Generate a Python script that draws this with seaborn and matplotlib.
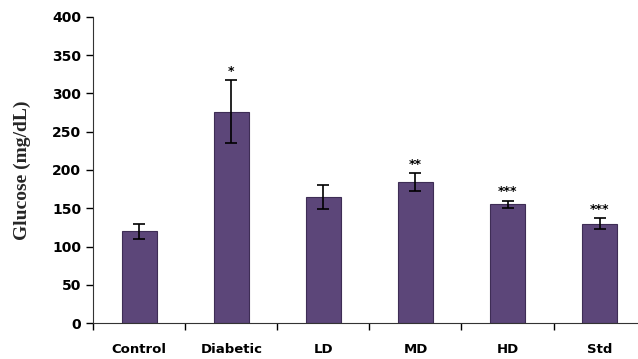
import numpy as np
import pandas as pd
import matplotlib
matplotlib.use("Agg")
import matplotlib.pyplot as plt
import seaborn as sns

# Glucose levels per group
groups = ["Control", "Diabetic", "LD", "MD", "HD", "Std"]
glucose = [120, 276, 165, 184, 155, 130]
sem = [10, 41, 16, 12, 5, 7]
stars = ["", "*", "", "**", "***", "***"]

df = pd.DataFrame({"group": groups, "glucose": glucose})

sns.set_style("white")
plt.rcParams["font.family"] = ["DejaVu Sans"]
plt.rcParams["text.color"] = "black"
plt.rcParams["xtick.color"] = "black"
plt.rcParams["ytick.color"] = "black"

fig = plt.figure(figsize=(6.38, 3.59), dpi=100)
ax = fig.add_axes([0.146, 0.100, 0.866, 0.853])

sns.barplot(data=df, x="group", y="glucose", color="#5c4679", width=0.38,
            edgecolor="#3e2d55", linewidth=0.8, saturation=1, errorbar=None, ax=ax)
ax.errorbar(np.arange(len(groups)), glucose, yerr=sem, fmt="none",
            ecolor="black", elinewidth=1.2, capsize=4, capthick=1.2)

for i, s in enumerate(stars):
    if s:
        ax.text(i, glucose[i] + sem[i] + 3, s, ha="center", va="bottom",
                fontsize=9, fontweight="bold")

ax.set_ylim(0, 400)
ax.set_yticks(range(0, 401, 50))
ax.set_xlim(-0.5, 5.5)
ax.set_xticks(np.arange(-0.5, 5.6, 1))
ax.set_xticklabels([])
ax.set_xticks(np.arange(len(groups)), minor=True)
ax.set_xticklabels(groups, minor=True, fontsize=9.5, fontweight="bold")
ax.tick_params(axis="x", which="major", direction="out", length=5, width=1, bottom=True)
ax.tick_params(axis="x", which="minor", length=0, pad=14)
ax.tick_params(axis="y", direction="out", length=5, width=1, left=True, labelsize=10)
for lab in ax.get_yticklabels():
    lab.set_fontweight("bold")

ax.set_xlabel("")
ax.set_ylabel("Glucose (mg/dL)", family="Liberation Serif", fontweight="bold",
              fontsize=14, labelpad=15)

sns.despine(ax=ax)
ax.spines["left"].set_color("#333333")
ax.spines["bottom"].set_color("#333333")

fig.savefig("out.png", dpi=100)
